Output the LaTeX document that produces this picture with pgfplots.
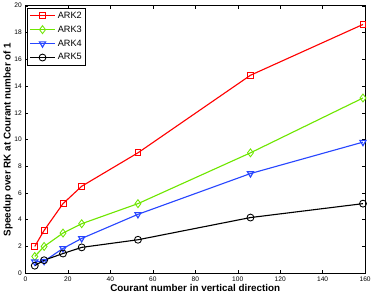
\documentclass[border=0pt]{standalone}
\usepackage{pgfplots}
\pgfplotsset{compat=1.18}
\usepackage{fontspec}
\setmainfont{Liberation Sans}
\definecolor{cred}{RGB}{255,0,0}
\definecolor{cgreen}{RGB}{110,230,0}
\definecolor{cblue}{RGB}{40,70,255}
\begin{document}
\begin{tikzpicture}
\begin{axis}[
  scale only axis,
  width=334pt, height=263pt,
  xmin=0, xmax=160, ymin=0, ymax=20,
  xtick={0,20,...,160}, ytick={0,2,...,20},
  tick align=inside,
  tick style={black, line width=0.4pt},
  major tick length=3pt,
  axis line style={line width=0.5pt},
  /pgf/number format/assume math mode=true,
  tick label style={font=\fontsize{6.5}{7}\selectfont},
  xlabel={\textbf{Courant number in vertical direction}},
  ylabel={\textbf{Speedup over RK at Courant number of 1}},
  label style={font=\fontsize{9.7}{11}\selectfont},
  xlabel style={yshift=4pt},
  ylabel style={yshift=-5pt},
  legend style={font=\fontsize{9}{10}\selectfont, draw=black, line width=0.5pt, inner sep=1.5pt, row sep=2pt, at={(0.006,0.992)}, anchor=north west},
  legend cell align=left,
  legend image code/.code={\draw[mark repeat=2,mark phase=2] plot coordinates {(0pt,0pt) (12.5pt,0pt) (25pt,0pt)};},
  every axis plot/.append style={line width=1.1pt},
  mark options={solid, fill=white, line width=0.85pt},
]
\addplot[cred, mark=square, mark size=2.9pt] coordinates {
(4.4,2.0) (8.8,3.2) (17.7,5.2) (26.5,6.5) (53,9.0) (106,14.8) (159,18.6)};
\addlegendentry{ARK2}
\addplot[cgreen, mark=diamond, mark size=3.9pt] coordinates {
(4.4,1.25) (8.8,2.0) (17.7,3.0) (26.5,3.7) (53,5.2) (106,9.0) (159,13.1)};
\addlegendentry{ARK3}
\addplot[cblue, mark=triangle, mark options={rotate=180}, mark size=3.5pt] coordinates {
(4.4,0.85) (8.8,0.9) (17.7,1.85) (26.5,2.6) (53,4.4) (106,7.45) (159,9.8)};
\addlegendentry{ARK4}
\addplot[black, mark=o, mark size=3.4pt] coordinates {
(4.4,0.56) (8.8,0.97) (17.7,1.47) (26.5,1.93) (53,2.5) (106,4.16) (159,5.2)};
\addlegendentry{ARK5}
\end{axis}
\end{tikzpicture}
\end{document}
